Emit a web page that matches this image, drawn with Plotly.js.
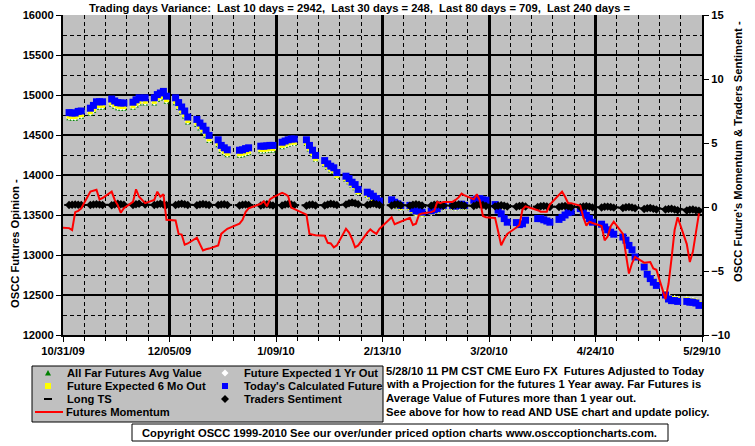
<!DOCTYPE html>
<html>
<head>
<meta charset="utf-8">
<script src="https://cdn.plot.ly/plotly-3.0.1.min.js"></script>
<style>html,body{margin:0;padding:0;background:#fff;}#chart{width:755px;height:446px;}</style>
</head>
<body>
<div id="chart"></div>
<script>
// ---- trading days ----
const tradeDates = [
'2009-11-02','2009-11-03','2009-11-04','2009-11-05','2009-11-06',
'2009-11-09','2009-11-10','2009-11-11','2009-11-12','2009-11-13',
'2009-11-16','2009-11-17','2009-11-18','2009-11-19','2009-11-20',
'2009-11-23','2009-11-24','2009-11-25','2009-11-27',
'2009-11-30','2009-12-01','2009-12-02','2009-12-03','2009-12-04',
'2009-12-07','2009-12-08','2009-12-09','2009-12-10','2009-12-11',
'2009-12-14','2009-12-15','2009-12-16','2009-12-17','2009-12-18',
'2009-12-21','2009-12-22','2009-12-23','2009-12-24',
'2009-12-28','2009-12-29','2009-12-30','2009-12-31',
'2010-01-04','2010-01-05','2010-01-06','2010-01-07','2010-01-08',
'2010-01-11','2010-01-12','2010-01-13','2010-01-14','2010-01-15',
'2010-01-19','2010-01-20','2010-01-21','2010-01-22',
'2010-01-25','2010-01-26','2010-01-27','2010-01-28','2010-01-29',
'2010-02-01','2010-02-02','2010-02-03','2010-02-04','2010-02-05',
'2010-02-08','2010-02-09','2010-02-10','2010-02-11','2010-02-12',
'2010-02-16','2010-02-17','2010-02-18','2010-02-19',
'2010-02-22','2010-02-23','2010-02-24','2010-02-25','2010-02-26',
'2010-03-01','2010-03-02','2010-03-03','2010-03-04','2010-03-05',
'2010-03-08','2010-03-09','2010-03-10','2010-03-11','2010-03-12',
'2010-03-15','2010-03-16','2010-03-17','2010-03-18','2010-03-19',
'2010-03-22','2010-03-23','2010-03-24','2010-03-25','2010-03-26',
'2010-03-29','2010-03-30','2010-03-31','2010-04-01',
'2010-04-05','2010-04-06','2010-04-07','2010-04-08','2010-04-09',
'2010-04-12','2010-04-13','2010-04-14','2010-04-15','2010-04-16',
'2010-04-19','2010-04-20','2010-04-21','2010-04-22','2010-04-23',
'2010-04-26','2010-04-27','2010-04-28','2010-04-29','2010-04-30',
'2010-05-03','2010-05-04','2010-05-05','2010-05-06','2010-05-07',
'2010-05-10','2010-05-11','2010-05-12','2010-05-13','2010-05-14',
'2010-05-17','2010-05-18','2010-05-19','2010-05-20','2010-05-21',
'2010-05-24','2010-05-25','2010-05-26','2010-05-27','2010-05-28'
];

// Today's Calculated Future (left axis)
const todaysFuture = [
14780,14775,14775,14795,14800, 14835,14870,14915,14915,14915, 14950,14925,14905,14900,14900, 14910,14940,14965,14965,
14965,15005,15025,15045,14985, 14965,14905,14850,14800,14725, 14695,14650,14610,14560,14495, 14440,14370,14340,14315, 14310,14315,14330,14340,
14360,14360,14365,14370,14370, 14410,14425,14440,14450,14450, 14440,14370,14310,14245, 14180,14140,14110,14090,14030,
13985,13955,13910,13880,13820, 13785,13765,13735,13705,13675, 13690,13660,13640,13620, 13620,13580,13550,13550,13535,
13550,13565,13580,13610,13620, 13620,13610,13620,13635,13620, 13685,13700,13705,13690,13685, 13630,13560,13515,13455,13410, 13405,13380,13390,13435,
13455,13455,13440,13425,13410, 13445,13470,13500,13530,13540, 13580,13535,13495,13455,13410, 13385,13350,13315,13285,13260,
13225,13185,13120,13065,12975, 12850,12760,12705,12660,12620, 12500,12450,12430,12430,12420, 12420,12410,12410,12400,12370
];

// Future Expected 6 Mo Out
const expected6Mo = [
14735,14730,14730,14750,14755, 14790,14825,14870,14870,14870, 14905,14880,14860,14855,14855, 14865,14895,14920,14920,
14920,14961,14981,15001,14941, 14921,14861,14806,14756,14681, 14651,14606,14566,14516,14451, 14396,14326,14296,14271, 14266,14271,14286,14296,
14320,14320,14325,14330,14330, 14370,14385,14400,14410,14410, 14405,14335,14275,14210, 14145,14105,14075,14055,13995,
13955,13925,13880,13850,13790, 13755,13735,13705,13675,13645, 13666,13636,13616,13596, 13596,13556,13526,13526,13511,
13532,13547,13562,13592,13602, 13602,13592,13602,13617,13602, 13680,13695,13700,13685,13680, 13625,13555,13510,13450,13405, 13400,13375,13385,13432,
13452,13452,13437,13422,13407, 13442,13467,13497,13527,13537, 13577,13532,13492,13452,13407, 13382,13347,13312,13282,13257,
13227,13187,13122,13067,12977, 12868,12778,12723,12678,12638, 12522,12472,12452,12452,12442, 12442,12432,12432,12422,12392
];

// Future Expected 1 Yr Out
const expected1Yr = [
14722,14717,14717,14737,14742, 14777,14812,14857,14857,14857, 14892,14867,14847,14842,14842, 14852,14882,14907,14907,
14907,14949,14969,14989,14929, 14909,14849,14794,14744,14669, 14639,14594,14554,14504,14439, 14384,14314,14284,14259, 14254,14259,14274,14284,
14308,14308,14313,14318,14318, 14358,14373,14388,14398,14398, 14395,14325,14265,14200, 14135,14095,14065,14045,13985,
13945,13915,13870,13840,13780, 13745,13725,13695,13665,13635, 13658,13628,13608,13588, 13588,13548,13518,13518,13503,
13525,13540,13555,13585,13595, 13595,13585,13595,13610,13595, 13677,13692,13697,13682,13677, 13622,13552,13507,13447,13402, 13397,13372,13382,13430,
13450,13450,13435,13420,13405, 13440,13465,13495,13525,13535, 13575,13530,13490,13450,13405, 13380,13345,13310,13280,13255,
13228,13188,13123,13068,12978, 12872,12782,12727,12682,12642, 12530,12480,12460,12460,12450, 12450,12440,12440,12430,12400
];

// All Far Futures Avg Value
const farFuturesAvg = [
14700,14695,14695,14715,14720, 14755,14790,14835,14835,14835, 14870,14845,14825,14820,14820, 14830,14860,14885,14885,
14885,14927,14947,14967,14907, 14887,14827,14772,14722,14647, 14617,14572,14532,14482,14417, 14362,14292,14262,14237, 14232,14237,14252,14262,
14288,14288,14293,14298,14298, 14338,14353,14368,14378,14378, 14378,14308,14248,14183, 14118,14078,14048,14028,13968,
13930,13900,13855,13825,13765, 13730,13710,13680,13650,13620, 13645,13615,13595,13575, 13575,13535,13505,13505,13490,
13515,13530,13545,13575,13585, 13585,13575,13585,13600,13585, 13673,13688,13693,13678,13673, 13618,13548,13503,13443,13398, 13393,13368,13378,13427,
13447,13447,13432,13417,13402, 13437,13462,13492,13522,13532, 13572,13527,13487,13447,13402, 13377,13342,13307,13277,13252,
13225,13185,13120,13065,12975, 12880,12790,12735,12690,12650, 12540,12490,12470,12470,12460, 12460,12450,12450,12440,12410
];

// Traders Sentiment (right axis)
const tradersSentiment = [
0.15,0.18,0.2,0.18,0.15, 0.15,0.2,0.22,0.2,0.16, 0.14,0.2,0.25,0.22,0.18, 0.15,0.22,0.25,0.2,
0.15,0.2,0.25,0.2,0.15, 0.15,0.22,0.26,0.22,0.16, 0.14,0.2,0.24,0.2,0.15, 0.15,0.2,0.22,0.16, 0.12,0.18,0.2,0.15,
0.12,0.18,0.22,0.18,0.12, 0.12,0.2,0.24,0.2,0.14, 0.1,0.18,0.2,0.12, 0.12,0.2,0.26,0.22,0.15,
0.2,0.3,0.35,0.3,0.22, 0.15,0.22,0.28,0.22,0.15, 0.12,0.2,0.22,0.14, 0.1,0.18,0.22,0.18,0.12,
0.1,0.18,0.2,0.16,0.1, 0.1,0.16,0.2,0.16,0.1, 0.08,0.16,0.2,0.16,0.08, 0.05,0.1,0.14,0.1,0.04, 0.02,0.08,0.1,0.04,
0.0,0.06,0.08,0.05,0.0, 0.0,0.06,0.08,0.05,-0.02, -0.02,0.04,0.06,0.03,-0.03, -0.04,0.02,0.03,0.0,-0.05,
-0.08,-0.02,0.0,-0.04,-0.1, -0.15,-0.1,-0.08,-0.14,-0.2, -0.2,-0.15,-0.14,-0.2,-0.26, -0.28,-0.22,-0.2,-0.25,-0.3
];

// Long TS (right axis)
const longTS = [
0.16,0.16,0.16,0.16,0.16, 0.16,0.16,0.17,0.17,0.17, 0.17,0.17,0.17,0.17,0.17, 0.17,0.17,0.17,0.17,
0.17,0.17,0.17,0.17,0.17, 0.17,0.17,0.17,0.17,0.17, 0.16,0.16,0.16,0.16,0.16, 0.16,0.16,0.16,0.16, 0.15,0.15,0.15,0.15,
0.15,0.15,0.15,0.15,0.15, 0.15,0.15,0.15,0.15,0.15, 0.14,0.14,0.14,0.14, 0.15,0.15,0.15,0.15,0.15,
0.18,0.18,0.18,0.18,0.18, 0.16,0.16,0.16,0.16,0.16, 0.14,0.14,0.14,0.14, 0.13,0.13,0.13,0.13,0.13,
0.12,0.12,0.12,0.12,0.12, 0.11,0.11,0.11,0.11,0.11, 0.1,0.1,0.1,0.1,0.1, 0.07,0.07,0.07,0.07,0.07, 0.05,0.05,0.05,0.04,
0.03,0.03,0.03,0.03,0.03, 0.02,0.02,0.02,0.02,0.02, 0.0,0.0,0.0,0.0,0.0, -0.02,-0.02,-0.02,-0.02,-0.02,
-0.05,-0.05,-0.05,-0.05,-0.05, -0.1,-0.1,-0.1,-0.1,-0.1, -0.15,-0.15,-0.15,-0.15,-0.15, -0.2,-0.2,-0.2,-0.2,-0.2
];

// Futures Momentum (right axis), starts one session earlier (10/30/09)
const momentumDates = ['2009-10-30'].concat(tradeDates);
const futuresMomentum = [
-1.6,
-1.65,-1.8,-0.4,-0.3,-0.1, 1.2,1.3,1.35,0.6,0.7, 1.2,0.55,0.15,-0.45,-0.1, 0.4,1.38,0.8,0.3,
0.55,1.2,0.8,1.0,-1.0, -1.05,-2.1,-2.15,-2.95,-2.85, -2.4,-2.9,-3.4,-3.3,-3.25, -3.0,-2.1,-1.9,-1.7, -1.3,-1.0,-0.4,-0.1,
0.25,0.45,0.05,0.6,0.75, 1.1,1.0,0.85,-0.05,-0.15, -0.6,-2.1,-2.15,-2.2, -2.25,-2.8,-2.85,-3.15,-3.0,
-1.7,-2.0,-2.5,-3.15,-3.0, -2.0,-1.75,-1.95,-2.1,-1.7, -0.8,-1.35,-1.25,-1.15, -0.85,-1.4,-1.3,-0.6,-0.5,
-0.4,-0.3,0.4,0.3,0.4, 0.4,0.55,0.75,1.05,0.9, 0.6,1.0,0.5,-0.7,-0.8, -0.85,-1.9,-3.0,-2.5,-2.1, -1.6,-1.4,-0.2,0.05,
-0.25,-0.37,-0.37,-0.37,0.2, 0.95,1.2,0.8,0.3,0.3, 0.1,-0.8,-1.45,-1.15,-1.25, -1.48,-2.6,-2.3,-1.5,-1.15,
-2.1,-3.7,-5.2,-4.4,-3.9, -4.35,-4.35,-4.3,-4.8,-4.9, -7.2,-6.0,-4.0,-1.8,-0.8, -2.9,-4.3,-3.5,-2.0,-0.5
];

// axis tick settings
const leftRange = [12000, 16000];
const rightRange = [-10, 15];
const xStart = '2009-10-31', xEnd = '2010-05-29';
const DAY = 86400000;

const F = {family: 'Liberation Sans, Arial, sans-serif', size: 11.2, color: '#000', weight: 'bold'};

const traces = [
  {x: tradeDates, y: farFuturesAvg, name: 'All Far Futures Avg Value', type: 'scatter', mode: 'markers',
   marker: {symbol: 'triangle-up', size: 5, color: '#008000'}, yaxis: 'y'},
  {x: tradeDates, y: expected1Yr, name: 'Future Expected 1 Yr Out', type: 'scatter', mode: 'markers',
   marker: {symbol: 'diamond', size: 5, color: '#FFFFFF'}, yaxis: 'y'},
  {x: tradeDates, y: expected6Mo, name: 'Future Expected 6 Mo Out', type: 'scatter', mode: 'markers',
   marker: {symbol: 'square', size: 5, color: '#FFFF00'}, yaxis: 'y'},
  {x: tradeDates, y: todaysFuture, name: "Today's Calculated Future", type: 'scatter', mode: 'markers',
   marker: {symbol: 'square', size: 7, color: '#0000FF'}, yaxis: 'y'},
  {x: tradeDates, y: longTS, name: 'Long TS', type: 'scatter', mode: 'markers',
   marker: {symbol: 'line-ew', size: 7, line: {color: '#000', width: 2}}, yaxis: 'y2'},
  {x: tradeDates, y: tradersSentiment, name: 'Traders Sentiment', type: 'scatter', mode: 'markers',
   marker: {symbol: 'diamond', size: 6.5, color: '#000'}, yaxis: 'y2'},
  {x: momentumDates, y: futuresMomentum, name: 'Futures Momentum', type: 'scatter', mode: 'lines',
   line: {color: '#FF0000', width: 2}, yaxis: 'y2'}
];

// pixel -> paper helpers for decorations
const L = 63, R = 702, T = 15, B = 335;
const px = x => (x - L) / (R - L);
const py = y => (B - y) / (B - T);

const legendRows = [373, 386, 399, 412];
const col1Mark = 48, col1Text = 65, col2Mark = 225, col2Text = 242;

const shapes = [
  // legend box
  {type: 'rect', xref: 'paper', yref: 'paper', x0: px(32), x1: px(383), y0: py(422), y1: py(366),
   fillcolor: '#C0C0C0', line: {color: '#000', width: 1}, layer: 'above'},
  // copyright box
  {type: 'rect', xref: 'paper', yref: 'paper', x0: px(132), x1: px(668), y0: py(441), y1: py(424),
   fillcolor: '#FFFFFF', line: {color: '#000', width: 1}, layer: 'above'},
  // legend markers
  {type: 'path', xref: 'paper', yref: 'paper', xsizemode: 'pixel', ysizemode: 'pixel',
   xanchor: px(col1Mark), yanchor: py(legendRows[0]), path: 'M-3,-2.5L3,-2.5L0,3Z',
   fillcolor: '#008000', line: {width: 0}, layer: 'above'},
  {type: 'path', xref: 'paper', yref: 'paper', xsizemode: 'pixel', ysizemode: 'pixel',
   xanchor: px(col2Mark), yanchor: py(legendRows[0]), path: 'M0,-3.5L3.5,0L0,3.5L-3.5,0Z',
   fillcolor: '#FFFFFF', line: {width: 0}, layer: 'above'},
  {type: 'rect', xref: 'paper', yref: 'paper', xsizemode: 'pixel', ysizemode: 'pixel',
   xanchor: px(col1Mark), yanchor: py(legendRows[1]), x0: -3, x1: 3, y0: -3, y1: 3,
   fillcolor: '#FFFF00', line: {width: 0}, layer: 'above'},
  {type: 'rect', xref: 'paper', yref: 'paper', xsizemode: 'pixel', ysizemode: 'pixel',
   xanchor: px(col2Mark), yanchor: py(legendRows[1]), x0: -3, x1: 3, y0: -3, y1: 3,
   fillcolor: '#0000FF', line: {width: 0}, layer: 'above'},
  {type: 'rect', xref: 'paper', yref: 'paper', xsizemode: 'pixel', ysizemode: 'pixel',
   xanchor: px(col1Mark), yanchor: py(legendRows[2]), x0: -4, x1: 4, y0: -1, y1: 1,
   fillcolor: '#000', line: {width: 0}, layer: 'above'},
  {type: 'path', xref: 'paper', yref: 'paper', xsizemode: 'pixel', ysizemode: 'pixel',
   xanchor: px(col2Mark), yanchor: py(legendRows[2]), path: 'M0,-4L4,0L0,4L-4,0Z',
   fillcolor: '#000', line: {width: 0}, layer: 'above'},
  {type: 'line', xref: 'paper', yref: 'paper', x0: px(35), x1: px(63), y0: py(legendRows[3]), y1: py(legendRows[3]),
   line: {color: '#FF0000', width: 2}, layer: 'above'}
];

function ann(text, x, y, xanchor, extra) {
  return Object.assign({text: text, xref: 'paper', yref: 'paper', x: px(x), y: py(y),
    xanchor: xanchor || 'left', yanchor: 'middle', showarrow: false, font: F}, extra || {});
}

const NB = '\u00A0';
const titleText = 'Trading days Variance:' + NB + ' Last 10 days = 2942,' + NB + ' Last 30 days = 248,' + NB +
  ' Last 80 days = 709,' + NB + ' Last 240 days = ';

const annotations = [
  ann(titleText, 87, 8, 'left'),
  ann('OSCC Futures Opinion -', 15, 244, 'center', {textangle: -90}),
  ann("OSCC Future's Momentum & Traders Sentiment -", 738, 152, 'center', {textangle: -90}),
  ann('All Far Futures Avg Value', col1Text, legendRows[0]),
  ann('Future Expected 1 Yr Out', col2Text, legendRows[0]),
  ann('Future Expected 6 Mo Out', col1Text, legendRows[1]),
  ann("Today's Calculated Future", col2Text, legendRows[1]),
  ann('Long TS', col1Text, legendRows[2]),
  ann('Traders Sentiment', col2Text, legendRows[2]),
  ann('Futures Momentum', 64, legendRows[3]),
  ann('5/28/10 11 PM CST CME Euro FX' + NB + ' Futures Adjusted to Today', 384, 371),
  ann('with a Projection for the futures 1 Year away. Far Futures is', 384, 384),
  ann('Average Value of Futures more than 1 year out.', 384, 398),
  ann('See above for how to read AND USE chart and update policy.', 384, 412),
  ann('Copyright OSCC 1999-2010 See our over/under priced option charts www.osccoptioncharts.com.', 400, 432.5, 'center')
];

const layout = {
  width: 755, height: 446,
  margin: {l: L, r: 755 - R, t: T, b: 446 - B, pad: 0},
  paper_bgcolor: '#FFFFFF', plot_bgcolor: '#C0C0C0',
  showlegend: false,
  font: F,
  xaxis: {
    type: 'date', range: [xStart, xEnd], tick0: xStart, dtick: 35 * DAY, tickformat: '%-m/%d/%y',
    ticks: 'outside', ticklen: 5, tickwidth: 1, tickcolor: '#000', tickfont: F,
    showgrid: true, gridcolor: '#000', gridwidth: 3,
    showline: true, linecolor: '#000', linewidth: 2, zeroline: false, fixedrange: true,
    minor: {dtick: 7 * DAY, tick0: xStart, showgrid: true, gridcolor: '#000', gridwidth: 1, griddash: '4px,3px',
            ticks: 'outside', ticklen: 4, tickcolor: '#000', tickwidth: 1}
  },
  yaxis: {
    range: leftRange, tick0: 12000, dtick: 500, tickformat: 'd',
    ticks: 'outside', ticklen: 5, tickcolor: '#000', tickfont: F,
    showgrid: true, gridcolor: '#000', gridwidth: 1.5,
    showline: true, linecolor: '#000', linewidth: 2, zeroline: false, fixedrange: true,
    minor: {dtick: 250, showgrid: true, gridcolor: '#000', gridwidth: 1, griddash: '4px,3px'}
  },
  yaxis2: {
    range: rightRange, tick0: -10, dtick: 5, overlaying: 'y', side: 'right',
    ticks: 'outside', ticklen: 5, tickcolor: '#000', tickfont: F,
    showgrid: false, showline: true, linecolor: '#000', linewidth: 2, zeroline: false, fixedrange: true
  },
  shapes: shapes,
  annotations: annotations
};

Plotly.newPlot('chart', traces, layout, {displayModeBar: false, staticPlot: true});
</script>
</body>
</html>
